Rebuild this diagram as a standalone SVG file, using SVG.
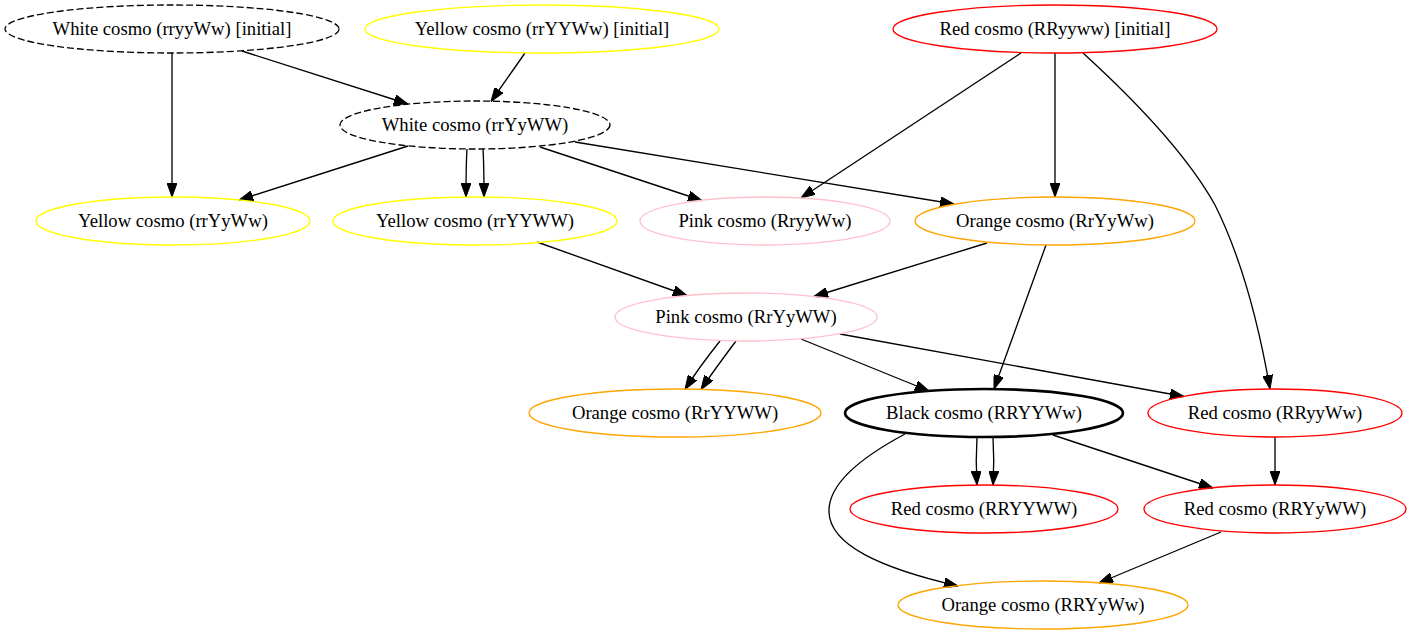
<svg xmlns="http://www.w3.org/2000/svg" width="1412" height="635" viewBox="0 0 1412 635">
<style>
  .n ellipse { fill: none; stroke-width: 1.33; }
  .n text { font-family: "Liberation Serif", "Times New Roman", serif; font-size: 18.67px; text-anchor: middle; fill: #000; }
  .dash ellipse { stroke: #000; stroke-dasharray: 7,3; }
  .yellow ellipse { stroke: #ffff00; }
  .red ellipse { stroke: #ff0000; }
  .pink ellipse { stroke: #ffc0cb; }
  .orange ellipse { stroke: #ffa500; }
  .bold ellipse { stroke: #000; stroke-width: 2.67; }
  #edges path { fill: none; stroke: #000; stroke-width: 1.33; marker-end: url(#arr); }
</style>
<defs>
  <marker id="arr" markerUnits="userSpaceOnUse" markerWidth="14" markerHeight="10" viewBox="0 0 14 10" refX="14" refY="5" orient="auto">
    <path d="M0,0 L14,5 L0,10 z" fill="#000" stroke="#000" stroke-width="1"/>
  </marker>
</defs>
<rect width="1412" height="635" fill="#fff"/>
<g id="edges">
  <path d="M172,53 L172,197"/>
  <path d="M242,51 L408,104"/>
  <path d="M525,53 L491,101.5"/>
  <path d="M408,146 L239,200"/>
  <path d="M467,149 C466,165 466,180 466,197"/>
  <path d="M483,149 C484,165 484,180 484,197"/>
  <path d="M540,147 L702,200.5"/>
  <path d="M575,142 L954,204"/>
  <path d="M1021,53 L801,198"/>
  <path d="M1055,53 L1055,197"/>
  <path d="M1083,53 C1140,105 1190,160 1215,205 C1240,255 1258,320 1270,389"/>
  <path d="M537,242 L687,295.5"/>
  <path d="M987,243 L814,296.5"/>
  <path d="M1046,245 L994,389"/>
  <path d="M720,341 C708,356 696,372 685,389.5"/>
  <path d="M736,341 C724,357 712,373 701,389.5"/>
  <path d="M801,339 L929,391"/>
  <path d="M840,334 L1184,396.5"/>
  <path d="M1275,437 L1275,485"/>
  <path d="M977,437 C976,453 976,469 977,485"/>
  <path d="M993,437 C994,453 994,469 993,485"/>
  <path d="M1053,435 L1213,488"/>
  <path d="M905,434 C860,458 828,485 829,512 C830,545 880,568 958,586"/>
  <path d="M1221,532 L1099,583"/>
</g>
<g id="n_white_rryyWw" class="n dash"><ellipse cx="172" cy="29" rx="167" ry="24"/><text x="172" y="35">White cosmo (rryyWw) [initial]</text></g>
<g id="n_yellow_rrYYWw" class="n yellow"><ellipse cx="542" cy="29" rx="177" ry="24"/><text x="542" y="35">Yellow cosmo (rrYYWw) [initial]</text></g>
<g id="n_red_RRyyww" class="n red"><ellipse cx="1055" cy="29" rx="162" ry="24"/><text x="1055" y="35">Red cosmo (RRyyww) [initial]</text></g>
<g id="n_white_rrYyWW" class="n dash"><ellipse cx="475" cy="125" rx="135" ry="24"/><text x="475" y="131">White cosmo (rrYyWW)</text></g>
<g id="n_yellow_rrYyWw" class="n yellow"><ellipse cx="173" cy="221" rx="137" ry="24"/><text x="173" y="227">Yellow cosmo (rrYyWw)</text></g>
<g id="n_yellow_rrYYWW" class="n yellow"><ellipse cx="475" cy="221" rx="142" ry="24"/><text x="475" y="227">Yellow cosmo (rrYYWW)</text></g>
<g id="n_pink_RryyWw" class="n pink"><ellipse cx="765" cy="221" rx="125" ry="24"/><text x="765" y="227">Pink cosmo (RryyWw)</text></g>
<g id="n_orange_RrYyWw" class="n orange"><ellipse cx="1055" cy="221" rx="140" ry="24"/><text x="1055" y="227">Orange cosmo (RrYyWw)</text></g>
<g id="n_pink_RrYyWW" class="n pink"><ellipse cx="746" cy="317" rx="131" ry="24"/><text x="746" y="323">Pink cosmo (RrYyWW)</text></g>
<g id="n_orange_RrYYWW" class="n orange"><ellipse cx="675" cy="413" rx="146" ry="24"/><text x="675" y="419">Orange cosmo (RrYYWW)</text></g>
<g id="n_black_RRYYWw" class="n bold"><ellipse cx="984" cy="413" rx="139" ry="24"/><text x="984" y="419">Black cosmo (RRYYWw)</text></g>
<g id="n_red_RRyyWw" class="n red"><ellipse cx="1275" cy="413" rx="127" ry="24"/><text x="1275" y="419">Red cosmo (RRyyWw)</text></g>
<g id="n_red_RRYYWW" class="n red"><ellipse cx="984" cy="509" rx="134" ry="24"/><text x="984" y="515">Red cosmo (RRYYWW)</text></g>
<g id="n_red_RRYyWW" class="n red"><ellipse cx="1275" cy="509" rx="131" ry="24"/><text x="1275" y="515">Red cosmo (RRYyWW)</text></g>
<g id="n_orange_RRYyWw" class="n orange"><ellipse cx="1043" cy="605" rx="145" ry="24"/><text x="1043" y="611">Orange cosmo (RRYyWw)</text></g>
</svg>
